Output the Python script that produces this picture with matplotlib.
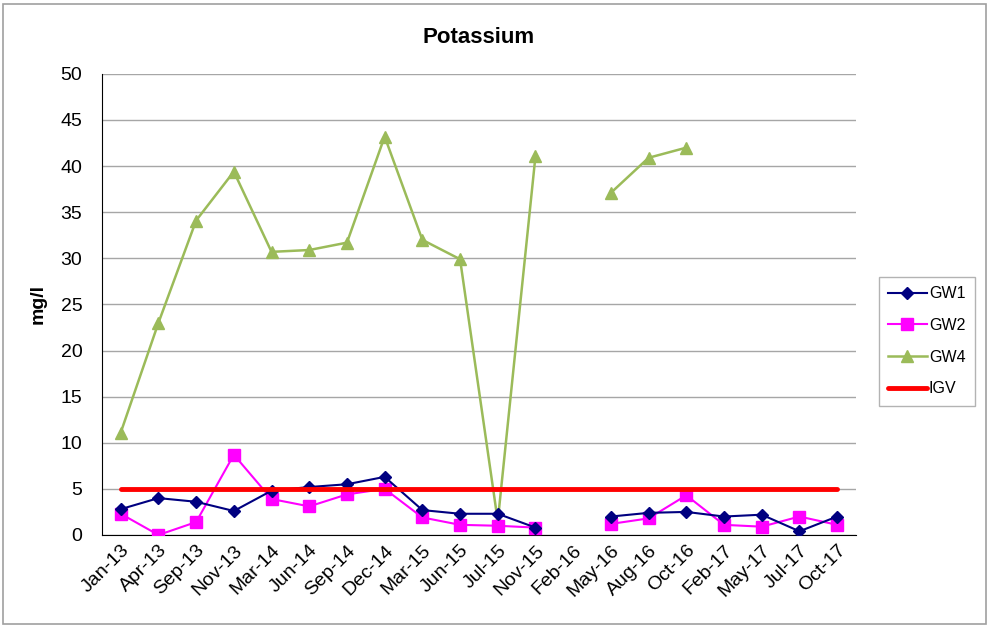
import numpy as np
import matplotlib
matplotlib.use("Agg")
import matplotlib.pyplot as plt
from matplotlib.patches import Rectangle

plt.rcParams["font.family"] = ["Liberation Sans", "DejaVu Sans"]

months = ["Jan-13", "Apr-13", "Sep-13", "Nov-13", "Mar-14", "Jun-14",
          "Sep-14", "Dec-14", "Mar-15", "Jun-15", "Jul-15", "Nov-15",
          "Feb-16", "May-16", "Aug-16", "Oct-16", "Feb-17", "May-17",
          "Jul-17", "Oct-17"]

nan = np.nan
gw1 = [2.8, 4.0, 3.6, 2.6, 4.8, 5.2, 5.5, 6.3, 2.7, 2.3, 2.3, 0.8,
       nan, 2.0, 2.4, 2.5, 2.0, 2.2, 0.4, 2.0]
gw2 = [2.3, 0.0, 1.4, 8.7, 3.9, 3.1, 4.4, 5.0, 1.9, 1.1, 1.0, 0.8,
       nan, 1.2, 1.8, 4.3, 1.1, 0.9, 2.0, 1.1]
gw4 = [11.1, 23.0, 34.1, 39.4, 30.7, 30.9, 31.7, 43.2, 32.0, 29.9, 1.5, 41.1,
       nan, 37.1, 40.9, 42.0, nan, nan, nan, nan]
igv = [5] * len(months)


def main():
    """Draw the potassium chart and save it."""

    fig = plt.figure(figsize=(9.89, 6.26), dpi=100)
    ax = fig.add_axes([0.103, 0.1454, 0.7625, 0.7366])

    x = np.arange(len(months))

    ax.plot(x, gw1, color="#000080", marker="D", markersize=6,
            linewidth=1.5, label="GW1", zorder=4)
    ax.plot(x, gw2, color="#FF00FF", marker="s", markersize=9,
            linewidth=1.5, label="GW2", zorder=3)
    ax.plot(x, gw4, color="#9BBB59", marker="^", markersize=9,
            linewidth=1.8, label="GW4", zorder=2)
    ax.plot(x, igv, color="#FF0000", linewidth=3.5,
            solid_capstyle="round", label="IGV", zorder=5)

    ax.set_xlim(-0.5, len(months) - 0.5)
    ax.set_ylim(0, 50)
    ax.set_yticks(range(0, 51, 5))
    ax.set_xticks(x)
    ax.set_xticklabels(months, rotation=45, ha="right",
                       rotation_mode="anchor", fontsize=14)
    ax.tick_params(axis="y", labelsize=14, length=0, pad=14)
    ax.tick_params(axis="x", length=0, pad=5)

    ax.yaxis.grid(True, color="#A6A6A6", linewidth=1)
    ax.set_axisbelow(True)
    for side in ["top", "right"]:
        ax.spines[side].set_visible(False)
    ax.spines["left"].set_color("black")
    ax.spines["bottom"].set_color("black")

    ax.set_title("Potassium", fontsize=16, fontweight="bold", pad=22)
    ax.set_ylabel("mg/l", fontsize=14, fontweight="bold", labelpad=10)

    leg = ax.legend(loc="center left", bbox_to_anchor=(1.03, 0.42),
                    fontsize=11.5, frameon=True, fancybox=False,
                    edgecolor="#A0A0A0", borderpad=0.6,
                    labelspacing=1.05, handlelength=2.4,
                    handletextpad=0.15, borderaxespad=0)
    leg.get_frame().set_linewidth(1)

    fig.patches.append(Rectangle((0.003, 0.003), 0.994, 0.991,
                                 transform=fig.transFigure, fill=False,
                                 edgecolor="#A0A0A0", linewidth=1.2))

    fig.savefig("out.png", dpi=100)


if __name__ == "__main__":
    main()
